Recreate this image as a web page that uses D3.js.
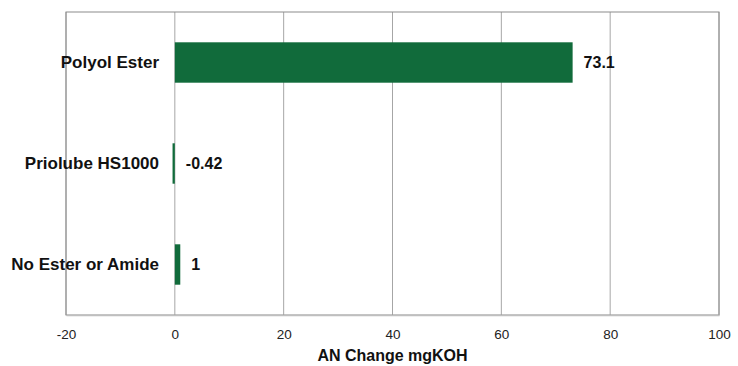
<!DOCTYPE html>
<html>
<head>
<meta charset="utf-8">
<script src="https://cdn.jsdelivr.net/npm/d3@7"></script>
<style>
  body { margin: 0; background: #fff; }
  text { font-family: "Liberation Sans", Arial, sans-serif; }
</style>
</head>
<body>
<svg width="738" height="366"></svg>
<script>
var categories = ["Polyol Ester", "Priolube HS1000", "No Ester or Amide"],
    values = [73.1, -0.42, 1],
    labels = ["73.1", "-0.42", "1"],
    ticks = [-20, 0, 20, 40, 60, 80, 100];

var svg = d3.select("svg"),
    margin = {top: 12, right: 19, bottom: 51, left: 66},
    width = 738 - margin.left - margin.right,
    height = 366 - margin.top - margin.bottom;

var g = svg.append("g")
    .attr("transform", "translate(" + margin.left + "," + margin.top + ")");

var x = d3.scaleLinear().domain([-20, 100]).range([0, width]);
var y = d3.scaleBand().domain(categories).range([0, height]).paddingInner(0.6).paddingOuter(0.3);

// gridlines
g.selectAll(".grid")
    .data(ticks)
    .enter().append("line")
    .attr("x1", function(d) { return x(d); })
    .attr("x2", function(d) { return x(d); })
    .attr("y1", 0)
    .attr("y2", height)
    .attr("stroke", "#a6a6a6")
    .attr("stroke-width", 1);

// frame
g.append("rect")
    .attr("x", 0).attr("y", 0)
    .attr("width", width).attr("height", height)
    .attr("fill", "none")
    .attr("stroke", "#8c8c8c")
    .attr("stroke-width", 1);

// x axis (plain hyphen for negatives, like the original)
var xAxis = g.append("g")
    .attr("transform", "translate(0," + height + ")")
    .call(d3.axisBottom(x).tickValues(ticks).tickSize(0).tickPadding(14).tickFormat(String));
xAxis.select(".domain").attr("stroke", "#bfbfbf").attr("stroke-width", 1.5);
xAxis.selectAll("text")
    .attr("font-size", 13.5)
    .attr("fill", "#222");

// bars
g.selectAll(".bar")
    .data(values)
    .enter().append("rect")
    .attr("x", function(d) { return x(Math.min(0, d)); })
    .attr("y", function(d, i) { return y(categories[i]); })
    .attr("width", function(d) { return Math.max(1.5, Math.abs(x(d) - x(0))); })
    .attr("height", y.bandwidth())
    .attr("fill", "#116b3b");

// value labels
g.selectAll(".val")
    .data(values)
    .enter().append("text")
    .attr("x", function(d) { return x(Math.max(0, d)) + 11; })
    .attr("y", function(d, i) { return y(categories[i]) + y.bandwidth() / 2; })
    .attr("dy", "0.35em")
    .attr("font-size", 16)
    .attr("font-weight", "bold")
    .attr("fill", "#111")
    .text(function(d, i) { return labels[i]; });

// category labels
g.selectAll(".cat")
    .data(categories)
    .enter().append("text")
    .attr("x", 93)
    .attr("y", function(d) { return y(d) + y.bandwidth() / 2; })
    .attr("dy", "0.35em")
    .attr("text-anchor", "end")
    .attr("font-size", 17)
    .attr("font-weight", "bold")
    .attr("fill", "#111")
    .text(function(d) { return d; });

// axis title
g.append("text")
    .attr("x", width / 2)
    .attr("y", height + 46)
    .attr("text-anchor", "middle")
    .attr("font-size", 16)
    .attr("font-weight", "bold")
    .attr("fill", "#111")
    .text("AN Change mgKOH");
</script>
</body>
</html>
